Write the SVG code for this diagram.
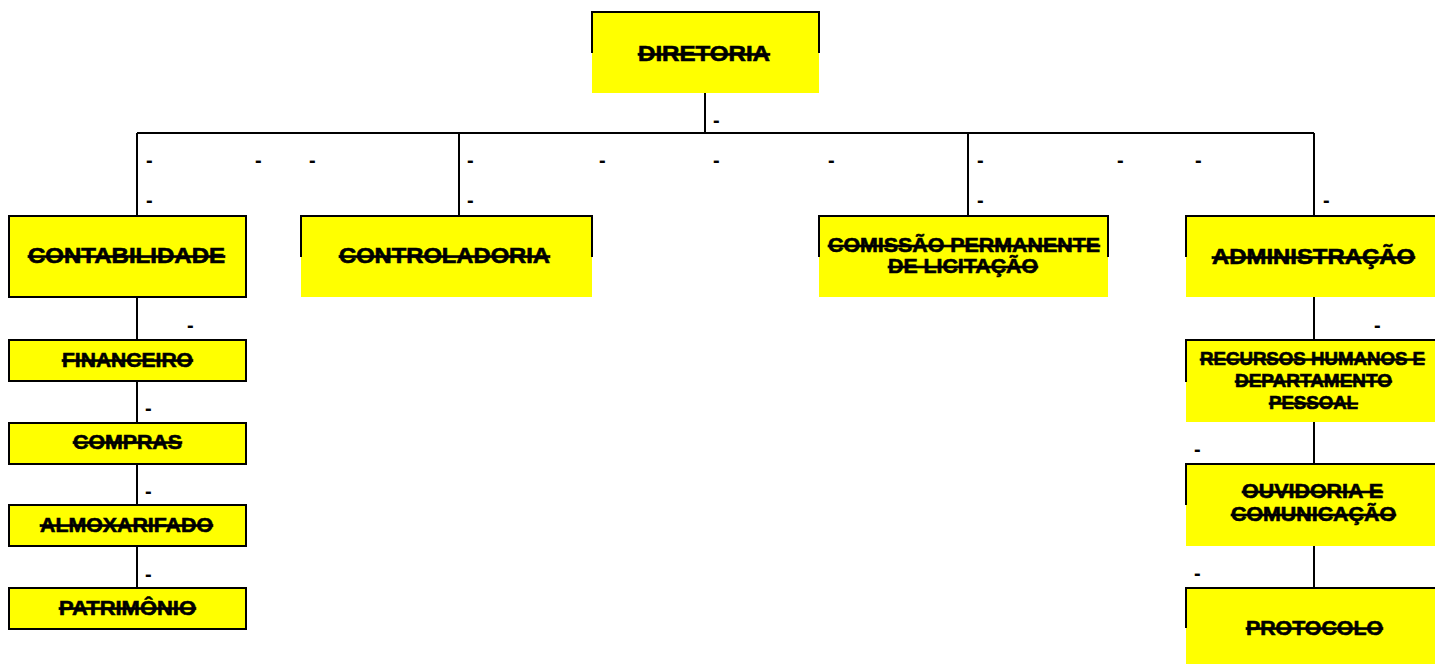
<svg xmlns="http://www.w3.org/2000/svg" width="1435" height="664" viewBox="0 0 1435 664">
<style>
.fill{fill:#FFFF00;stroke:none}
.full{fill:#FFFF00;stroke:#000;stroke-width:2}
.frame{fill:none;stroke:#000;stroke-width:2}
.conn path{fill:none;stroke:#000;stroke-width:2}
.lbl{font-family:"Liberation Sans",Arial,sans-serif;font-weight:bold;fill:#000;stroke:#000;stroke-width:0.6;text-decoration:line-through}
.dash{font-family:"Liberation Sans",Arial,sans-serif;font-weight:bold;font-size:20px;fill:#000}
</style>
<rect width="1435" height="664" fill="#fff"/>
<g id="connectors" class="conn">
<path d="M705,93 V133"/>
<path d="M137,133 H1314"/>
<path d="M137,133 V216"/>
<path d="M459,133 V216"/>
<path d="M968,133 V216"/>
<path d="M1314,133 V216"/>
<path d="M137,297 V340"/>
<path d="M137,381 V423"/>
<path d="M137,464 V505"/>
<path d="M137,546 V588"/>
<path d="M1314,297 V340"/>
<path d="M1314,422 V464"/>
<path d="M1314,546 V588"/>
</g>
<g id="dashes" class="dash">
<text x="713" y="127">-</text>
<text x="146" y="167">-</text>
<text x="255" y="167">-</text>
<text x="309" y="167">-</text>
<text x="467" y="167">-</text>
<text x="599" y="167">-</text>
<text x="713" y="167">-</text>
<text x="828" y="167">-</text>
<text x="977" y="167">-</text>
<text x="1117" y="167">-</text>
<text x="1195" y="167">-</text>
<text x="146" y="207">-</text>
<text x="467" y="207">-</text>
<text x="977" y="207">-</text>
<text x="1323" y="207">-</text>
<text x="187" y="332">-</text>
<text x="145" y="415">-</text>
<text x="145" y="498">-</text>
<text x="145" y="581">-</text>
<text x="1374" y="332">-</text>
<text x="1194" y="456">-</text>
<text x="1194" y="580">-</text>
</g>
<g id="diretoria">
<rect class="fill" x="592" y="12" width="227" height="81"/>
<path class="frame" d="M592,53 V12 H819 V53"/>
<text class="lbl" x="638" y="61" font-size="22" textLength="132" lengthAdjust="spacingAndGlyphs">DIRETORIA</text>
</g>
<g id="contabilidade">
<rect class="full" x="9" y="216" width="237" height="81"/>
<text class="lbl" x="28" y="263" font-size="21.5" textLength="197" lengthAdjust="spacingAndGlyphs">CONTABILIDADE</text>
</g>
<g id="controladoria">
<rect class="fill" x="301" y="216" width="291" height="81"/>
<path class="frame" d="M301,257 V216 H592 V257"/>
<text class="lbl" x="339" y="263" font-size="21.5" textLength="211" lengthAdjust="spacingAndGlyphs">CONTROLADORIA</text>
</g>
<g id="comissao">
<rect class="fill" x="819" y="216" width="289" height="81"/>
<path class="frame" d="M819,257 V216 H1108 V257"/>
<text class="lbl" x="828" y="252" font-size="20" textLength="272" lengthAdjust="spacingAndGlyphs">COMISSÃO PERMANENTE</text>
<text class="lbl" x="888" y="273" font-size="20" textLength="150" lengthAdjust="spacingAndGlyphs">DE LICITAÇÃO</text>
</g>
<g id="administracao">
<rect class="fill" x="1186" y="216" width="252" height="81"/>
<path class="frame" d="M1186,257 V216 H1438"/>
<text class="lbl" x="1212" y="264" font-size="21.5" textLength="203" lengthAdjust="spacingAndGlyphs">ADMINISTRAÇÃO</text>
</g>
<g id="financeiro">
<rect class="full" x="9" y="340" width="237" height="41"/>
<text class="lbl" x="62" y="367" font-size="21" textLength="131" lengthAdjust="spacingAndGlyphs">FINANCEIRO</text>
</g>
<g id="compras">
<rect class="full" x="9" y="423" width="237" height="41"/>
<text class="lbl" x="73" y="449" font-size="21" textLength="109" lengthAdjust="spacingAndGlyphs">COMPRAS</text>
</g>
<g id="almoxarifado">
<rect class="full" x="9" y="505" width="237" height="41"/>
<text class="lbl" x="40" y="532" font-size="21" textLength="173" lengthAdjust="spacingAndGlyphs">ALMOXARIFADO</text>
</g>
<g id="patrimonio">
<rect class="full" x="9" y="588" width="237" height="41"/>
<text class="lbl" x="59" y="615" font-size="21" textLength="137" lengthAdjust="spacingAndGlyphs">PATRIMÔNIO</text>
</g>
<g id="recursos-humanos">
<rect class="fill" x="1186" y="340" width="252" height="82"/>
<path class="frame" d="M1186,382 V340 H1438"/>
<text class="lbl" x="1200" y="365" font-size="17.5" textLength="225" lengthAdjust="spacingAndGlyphs">RECURSOS HUMANOS E</text>
<text class="lbl" x="1235" y="387" font-size="17.5" textLength="157" lengthAdjust="spacingAndGlyphs">DEPARTAMENTO</text>
<text class="lbl" x="1269" y="409" font-size="17.5" textLength="89" lengthAdjust="spacingAndGlyphs">PESSOAL</text>
</g>
<g id="ouvidoria">
<rect class="fill" x="1186" y="464" width="252" height="82"/>
<path class="frame" d="M1186,505 V464 H1438"/>
<text class="lbl" x="1242" y="498" font-size="20" textLength="141" lengthAdjust="spacingAndGlyphs">OUVIDORIA E</text>
<text class="lbl" x="1231" y="521" font-size="20" textLength="165" lengthAdjust="spacingAndGlyphs">COMUNICAÇÃO</text>
</g>
<g id="protocolo">
<rect class="fill" x="1186" y="588" width="252" height="78"/>
<path class="frame" d="M1186,628 V588 H1438"/>
<text class="lbl" x="1246" y="635" font-size="21" textLength="137" lengthAdjust="spacingAndGlyphs">PROTOCOLO</text>
</g>
</svg>
